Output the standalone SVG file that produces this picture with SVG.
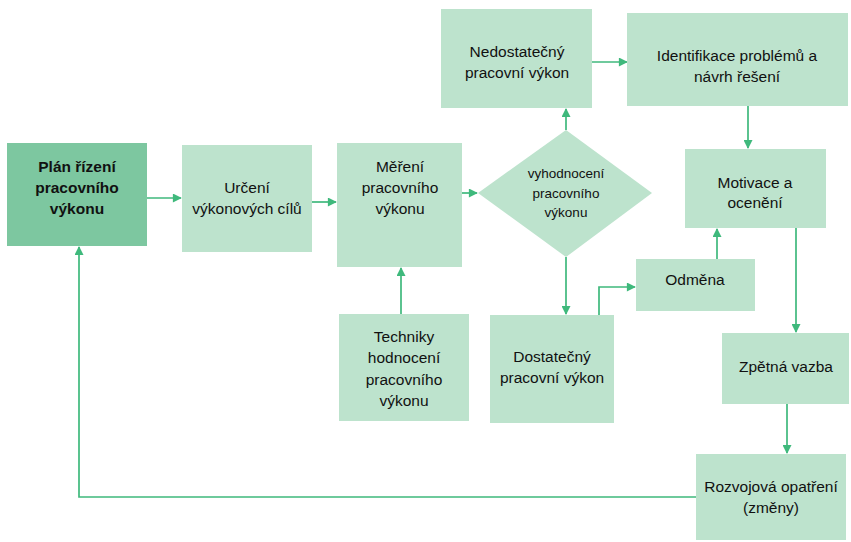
<svg xmlns="http://www.w3.org/2000/svg" width="851" height="542" viewBox="0 0 851 542">
  <style>
    .box { fill: #bde3cd; }
    .main { fill: #7dc7a0; }
    .lbl { font-family: "Liberation Sans", Arial, sans-serif; font-size: 15.5px; fill: #111111; text-anchor: middle; }
    .bold { font-weight: bold; }
    .small { font-size: 13.5px; }
    .wire { fill: none; stroke: #3fb97c; stroke-width: 1.7; }
  </style>
  <defs>
    <marker id="arrow" viewBox="0 0 10 10" refX="9" refY="5" markerWidth="10" markerHeight="9" orient="auto" markerUnits="userSpaceOnUse">
      <path d="M0,0 L10,5 L0,10 z" fill="#3fb97c"/>
    </marker>
  </defs>
  <rect width="851" height="542" fill="#ffffff"/>

  <g id="connectors">
    <line class="wire" x1="147" y1="198" x2="181" y2="198" marker-end="url(#arrow)"/>
    <line class="wire" x1="312" y1="202" x2="336" y2="202" marker-end="url(#arrow)"/>
    <line class="wire" x1="462" y1="193" x2="477" y2="193" marker-end="url(#arrow)"/>
    <line class="wire" x1="566" y1="130" x2="566" y2="109" marker-end="url(#arrow)"/>
    <line class="wire" x1="592" y1="62" x2="627" y2="62" marker-end="url(#arrow)"/>
    <line class="wire" x1="748" y1="106" x2="748" y2="148" marker-end="url(#arrow)"/>
    <line class="wire" x1="566" y1="257" x2="566" y2="314" marker-end="url(#arrow)"/>
    <polyline class="wire" points="599,315 599,287 635,287" marker-end="url(#arrow)"/>
    <line class="wire" x1="717" y1="259" x2="717" y2="229" marker-end="url(#arrow)"/>
    <line class="wire" x1="401" y1="314" x2="401" y2="268" marker-end="url(#arrow)"/>
    <line class="wire" x1="796" y1="228" x2="796" y2="332" marker-end="url(#arrow)"/>
    <line class="wire" x1="787" y1="404" x2="787" y2="453" marker-end="url(#arrow)"/>
    <polyline class="wire" points="696,497 79,497 79,247" marker-end="url(#arrow)"/>
  </g>

  <g id="plan">
    <rect class="main" x="7" y="143" width="140" height="103"/>
    <text class="lbl bold" x="77" y="172">Plán řízení<tspan x="77" dy="21">pracovního</tspan><tspan x="77" dy="21">výkonu</tspan></text>
  </g>

  <g id="urceni">
    <rect class="box" x="182" y="145" width="130" height="107"/>
    <text class="lbl" x="247" y="193">Určení<tspan x="247" dy="21">výkonových cílů</tspan></text>
  </g>

  <g id="mereni">
    <rect class="box" x="337" y="143" width="125" height="124"/>
    <text class="lbl" x="400" y="172">Měření<tspan x="400" dy="21">pracovního</tspan><tspan x="400" dy="21">výkonu</tspan></text>
  </g>

  <g id="vyhodnoceni">
    <polygon class="box" points="566,130 652,193 566,257 478,193"/>
    <text class="lbl small" x="566" y="178">vyhodnocení<tspan x="566" dy="19.5">pracovního</tspan><tspan x="566" dy="19.5">výkonu</tspan></text>
  </g>

  <g id="nedostatecny">
    <rect class="box" x="441" y="9" width="151" height="99"/>
    <text class="lbl" x="517" y="57">Nedostatečný<tspan x="517" dy="21">pracovní výkon</tspan></text>
  </g>

  <g id="identifikace">
    <rect class="box" x="627" y="13" width="221" height="93"/>
    <text class="lbl" x="737" y="61">Identifikace problémů a<tspan x="737" dy="21">návrh řešení</tspan></text>
  </g>

  <g id="motivace">
    <rect class="box" x="685" y="149" width="141" height="79"/>
    <text class="lbl" x="755" y="188">Motivace a<tspan x="755" dy="20">ocenění</tspan></text>
  </g>

  <g id="odmena">
    <rect class="box" x="636" y="259" width="119" height="52"/>
    <text class="lbl" x="695" y="285">Odměna</text>
  </g>

  <g id="techniky">
    <rect class="box" x="339" y="314" width="130" height="107"/>
    <text class="lbl" x="404" y="342">Techniky<tspan x="404" dy="21.3">hodnocení</tspan><tspan x="404" dy="21.3">pracovního</tspan><tspan x="404" dy="21.3">výkonu</tspan></text>
  </g>

  <g id="dostatecny">
    <rect class="box" x="490" y="315" width="124" height="108"/>
    <text class="lbl" x="552" y="362">Dostatečný<tspan x="552" dy="21">pracovní výkon</tspan></text>
  </g>

  <g id="zpetna-vazba">
    <rect class="box" x="722" y="333" width="127" height="71"/>
    <text class="lbl" x="786" y="372">Zpětná vazba</text>
  </g>

  <g id="rozvojova">
    <rect class="box" x="696" y="454" width="150" height="86"/>
    <text class="lbl" x="771" y="492">Rozvojová opatření<tspan x="771" dy="21">(změny)</tspan></text>
  </g>
</svg>
